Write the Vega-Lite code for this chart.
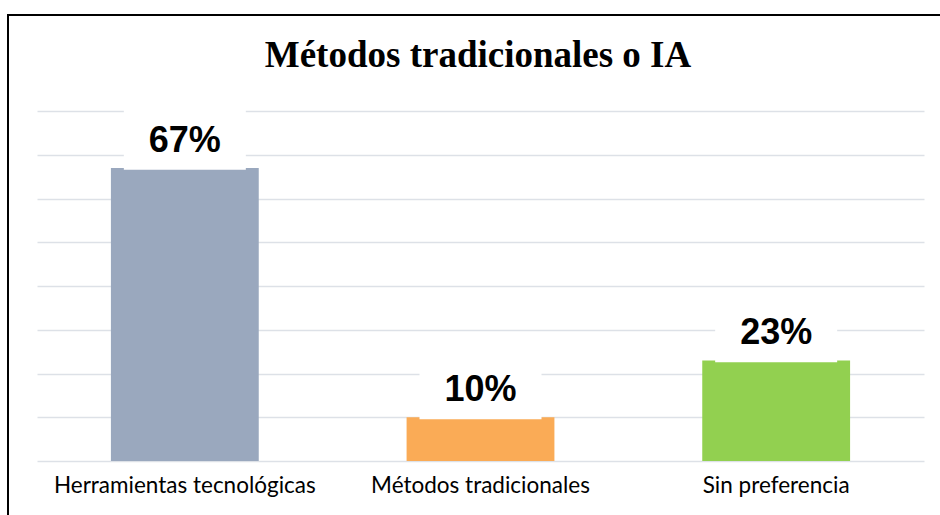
{
  "$schema": "https://vega.github.io/schema/vega-lite/v6.json",
  "width": 940,
  "height": 520,
  "autosize": "none",
  "padding": {"left": 8, "top": 15, "right": 0, "bottom": 0},
  "background": "white",
  "title": {
    "text": "Métodos tradicionales o IA",
    "anchor": "middle",
    "frame": "group",
    "offset": -89,
    "baseline": "alphabetic",
    "font": "Liberation Serif",
    "fontWeight": "bold",
    "fontSize": 37,
    "color": "#000000"
  },
  "data": {
    "values": [
      {"cat": "Herramientas tecnológicas", "pct": 0.67},
      {"cat": "Métodos tradicionales", "pct": 0.10},
      {"cat": "Sin preferencia", "pct": 0.23}
    ]
  },
  "encoding": {
    "x": {
      "field": "cat",
      "type": "nominal",
      "sort": null,
      "scale": {"range": [29, 916], "paddingInner": 0.5, "paddingOuter": 0.25},
      "axis": {
        "title": null,
        "orient": "bottom",
        "offset": -74,
        "labelAngle": 0,
        "ticks": false,
        "tickSize": 0,
        "domain": false,
        "grid": false,
        "labelPadding": 31,
        "labelBaseline": "alphabetic",
        "labelFont": "Lato",
        "labelFontSize": 22.5,
        "labelLimit": 0,
        "labelColor": "#000000"
      }
    },
    "y": {
      "field": "pct",
      "type": "quantitative",
      "scale": {"domain": [0, 0.8], "range": [446, 96], "nice": false, "zero": true},
      "axis": {
        "title": null,
        "labels": false,
        "ticks": false,
        "domain": false,
        "grid": true,
        "values": [0, 0.1, 0.2, 0.3, 0.4, 0.5, 0.6, 0.7, 0.8],
        "gridColor": "#DDE1E7",
        "gridWidth": 1.5
      }
    }
  },
  "layer": [
    {
      "mark": {"type": "bar"},
      "encoding": {
        "color": {
          "field": "cat",
          "type": "nominal",
          "scale": {
            "domain": ["Herramientas tecnológicas", "Métodos tradicionales", "Sin preferencia"],
            "range": ["#9AA8BE", "#FAAB56", "#92D050"]
          },
          "legend": null
        }
      }
    },
    {
      "mark": {
        "type": "point",
        "shape": "M-1,-0.49L1,-0.49L1,0.49L-1,0.49Z",
        "size": 14884,
        "filled": true,
        "color": "#FFFFFF",
        "opacity": 1,
        "strokeWidth": 0,
        "yOffset": -28
      }
    },
    {
      "mark": {
        "type": "text",
        "font": "Liberation Sans",
        "fontWeight": "bold",
        "fontSize": 36,
        "baseline": "alphabetic",
        "dy": -16,
        "color": "#000000"
      },
      "encoding": {
        "text": {"field": "pct", "type": "quantitative", "format": ".0%"}
      }
    }
  ],
  "config": {
    "view": {"stroke": "#000000", "strokeWidth": 2}
  }
}
